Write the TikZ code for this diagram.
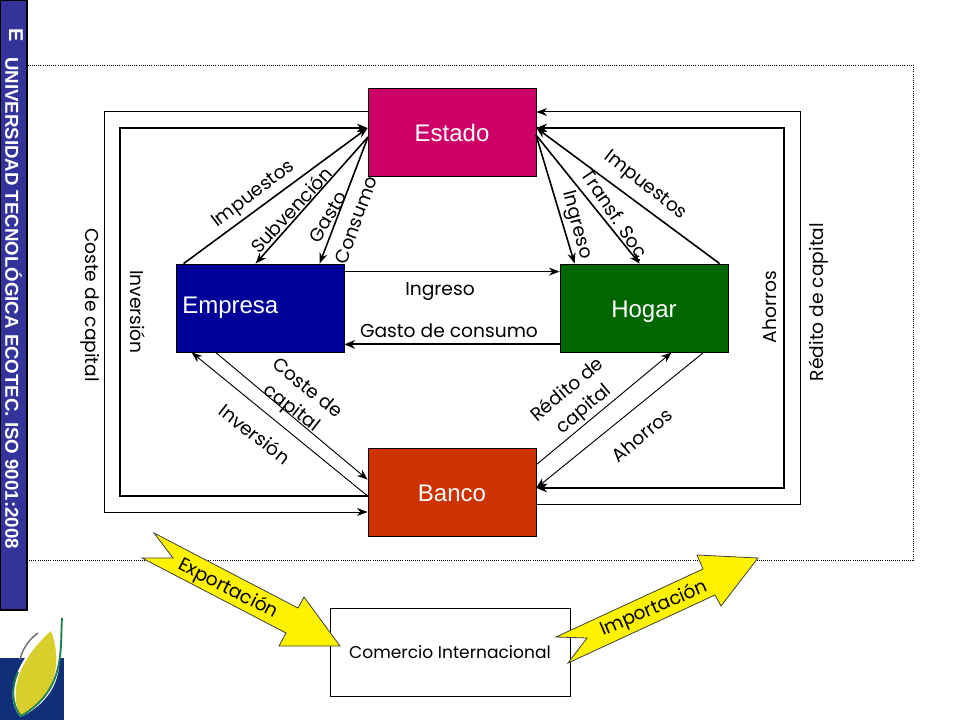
\documentclass[tikz,border=0pt]{standalone}
\usepackage{fontspec}
\setmainfont{Liberation Sans}
\newfontfamily\labfont{Poppins}
\usetikzlibrary{arrows.meta,positioning,calc}
\definecolor{estadoc}{HTML}{CC0066}
\definecolor{empresac}{HTML}{000099}
\definecolor{hogarc}{HTML}{006600}
\definecolor{bancoc}{HTML}{CC3300}
\definecolor{barc}{HTML}{333399}
\definecolor{logoc}{HTML}{0F2F78}
\definecolor{leafc}{HTML}{D8CF2C}
\definecolor{stemc}{HTML}{1F7F4F}
\newcommand{\sectext}[2][-7.25pt]{\raisebox{#1}[0pt][0pt]{#2}}

\begin{document}
\begin{tikzpicture}[x=0.75pt, y=-0.75pt,
  sector/.style={draw=black, line width=0.6pt, minimum width=126pt, minimum height=66pt, inner sep=0pt, text=white, font=\fontsize{18}{20}\selectfont},
  lab/.style={font=\labfont\fontsize{14}{19}\selectfont, align=center, inner sep=0pt},
  thinflow/.style={line width=0.75pt, -{Stealth[length=8pt,width=6pt]}},
  thickflow/.style={line width=1.6pt, -{Stealth[length=8pt,width=6.5pt]}},
  diag/.style={line width=1.2pt, -{Stealth[length=8pt,width=6pt]}},
  fine/.style={line width=0.7pt, -{Stealth[length=8pt,width=6pt]}},
  bigarrow/.style={draw=black!75, line width=0.6pt, fill=yellow},
]
  \useasboundingbox (0,0) rectangle (960,720);

  % Dotted frame behind everything.
  \draw[densely dotted, line width=0.6pt] (27,65) rectangle (913,560);

  % Side bar.
  \draw[fill=barc, line width=0.8pt] (0,0) rectangle (27,610);
  \node[rotate=-90, text=white, font=\fontsize{15}{16}\bfseries\selectfont, inner sep=0pt] (barE) at (16,35) {E};
  \node[rotate=-90, text=white, font=\fontsize{14}{15}\bfseries\selectfont, inner sep=0pt] (barText) at (13.5,303) {UNIVERSIDAD TECNOLÓGICA ECOTEC. ISO 9001:2008};

  % Logo in the corner.
  \fill[logoc] (0,658) rectangle (64,720);
  \draw[white, fill=white, line width=2.5pt] (51,631) .. controls (64,660) and (60,695) .. (21,715) .. controls (5,695) and (18,660) .. (51,631) -- cycle;
  \fill[leafc] (51,631) .. controls (62,660) and (58,695) .. (21,715) .. controls (8,695) and (18,660) .. (51,631) -- cycle;
  \draw[stemc, line width=1.4pt] (62,618) .. controls (60,650) and (66,690) .. (21,716) .. controls (16,710) and (8,695) .. (18,672);
  \draw[black!60, line width=1pt] (38,633) .. controls (28,640) and (22,650) .. (20,660);

  % The five sectors.
  \node[sector, fill=estadoc] (estado) at (452,132) {\sectext{Estado}};
  \node[sector, fill=empresac] (empresa) at (260,308) {\hspace*{-44.5pt}\sectext[-4.25pt]{Empresa}};
  \node[sector, fill=hogarc] (hogar) at (644,308) {\sectext{Hogar}};
  \node[sector, fill=bancoc] (banco) at (452,492) {\sectext{Banco}};
  \node[draw, line width=0.7pt, fill=white, minimum width=180pt, minimum height=66pt, inner sep=0pt, font=\labfont\fontsize{12.8}{15}\selectfont] (comercio) at (450,652) {Comercio Internacional};

  % Corners of the outer loops.
  \coordinate (outerNW) at (104,112);
  \coordinate (outerSW) at (104,512);
  \coordinate (innerNW) at (120,128);
  \coordinate (innerSW) at (120,496);
  \coordinate (outerNE) at (800,112);
  \coordinate (outerSE) at (800,504);
  \coordinate (innerNE) at (784,128);
  \coordinate (innerSE) at (784,488);

  \draw[thinflow] (estado.west |- outerNW) -- (outerNW) -- (outerSW) -- (banco.west |- outerSW);
  \draw[thickflow] (banco.west |- innerSW) -- (innerSW) -- (innerNW) -- (estado.west |- innerNW);
  \draw[thinflow] (banco.east |- outerSE) -- (outerSE) -- (outerNE) -- (estado.east |- outerNE);
  \draw[thickflow] (estado.east |- innerNE) -- (innerNE) -- (innerSE) -- (banco.east |- innerSE);
  \draw[thickflow] (innerNE) -- (estado.east |- innerNE);

  % Flows between the sectors.
  \coordinate (estL) at (368,137);
  \coordinate (estR) at (536,135);
  \draw[diag] ($(empresa.north west)+(8,0)$) -- (estado.west |- innerNW);
  \draw[diag] (estL) -- ($(empresa.north west)+(80,0)$);
  \draw[diag] (estL) -- ($(empresa.north west)+(144,0)$);
  \draw[diag] (estR) -- ($(hogar.north west)+(15,0)$);
  \draw[diag] (estR) -- ($(hogar.north west)+(80,0)$);
  \draw[diag] ($(hogar.north west)+(160,0)$) -- (estado.east |- innerNE);
  \draw[thinflow] ($(empresa.north east)+(0,8)$) -- ($(hogar.north west)+(0,8)$);
  \draw[thickflow] ($(hogar.south west)+(0,-8)$) -- ($(empresa.south east)+(0,-8)$);
  \draw[fine] ($(empresa.south west)+(40,0)$) -- ($(banco.north west)+(0,32)$);
  \draw[fine] (banco.west |- innerSW) -- ($(empresa.south west)+(16,0)$);
  \draw[fine] ($(banco.north east)+(0,17)$) -- ($(hogar.south west)+(112,0)$);
  \draw[fine] ($(hogar.south west)+(144,0)$) -- (banco.east |- innerSE);

  % Trade arrows.
  \draw[bigarrow] (154,533) -- (173,558) -- (142,558) -- (286,633) -- (279,646) -- (340,646) -- (304,597) -- (298,608) -- cycle;
  \draw[bigarrow] (758,558) -- (697,555) -- (703,569) -- (556,637) -- (587,638) -- (568,663) -- (715,595) -- (721,606) -- cycle;

  % Labels.
  \foreach \n/\x/\y/\a/\t in {
    impL/254/195/37/Impuestos, subv/291/210/47/Subvención, gasto/328/217/60/Gasto,
    cons/356/220/70/Consumo, impR/645/186/-38/Impuestos, trans/616/215/-56/Transf. Soc.,
    ingV/576/225/-75/Ingreso, ingH/440/292/0/Ingreso, gcons/449/331/0/Gasto de consumo,
    costeV/90/305/-90/Coste de capital, invV/138/312/-90/Inversión,
    ahoV/770/307/90/Ahorros, redV/819/302/90/Rédito de capital,
    costeD/299/399/-38/{Coste de\\capital}, invD/255/434/-38/Inversión,
    redD/576/400/40/{Rédito de\\capital}, ahoD/642/435/40/Ahorros,
    expo/228/589/-27/Exportación, impo/654/609/23/Importación}
    \node[lab, rotate=\a] (lab\n) at (\x,\y) {\t};
\end{tikzpicture}
\end{document}
